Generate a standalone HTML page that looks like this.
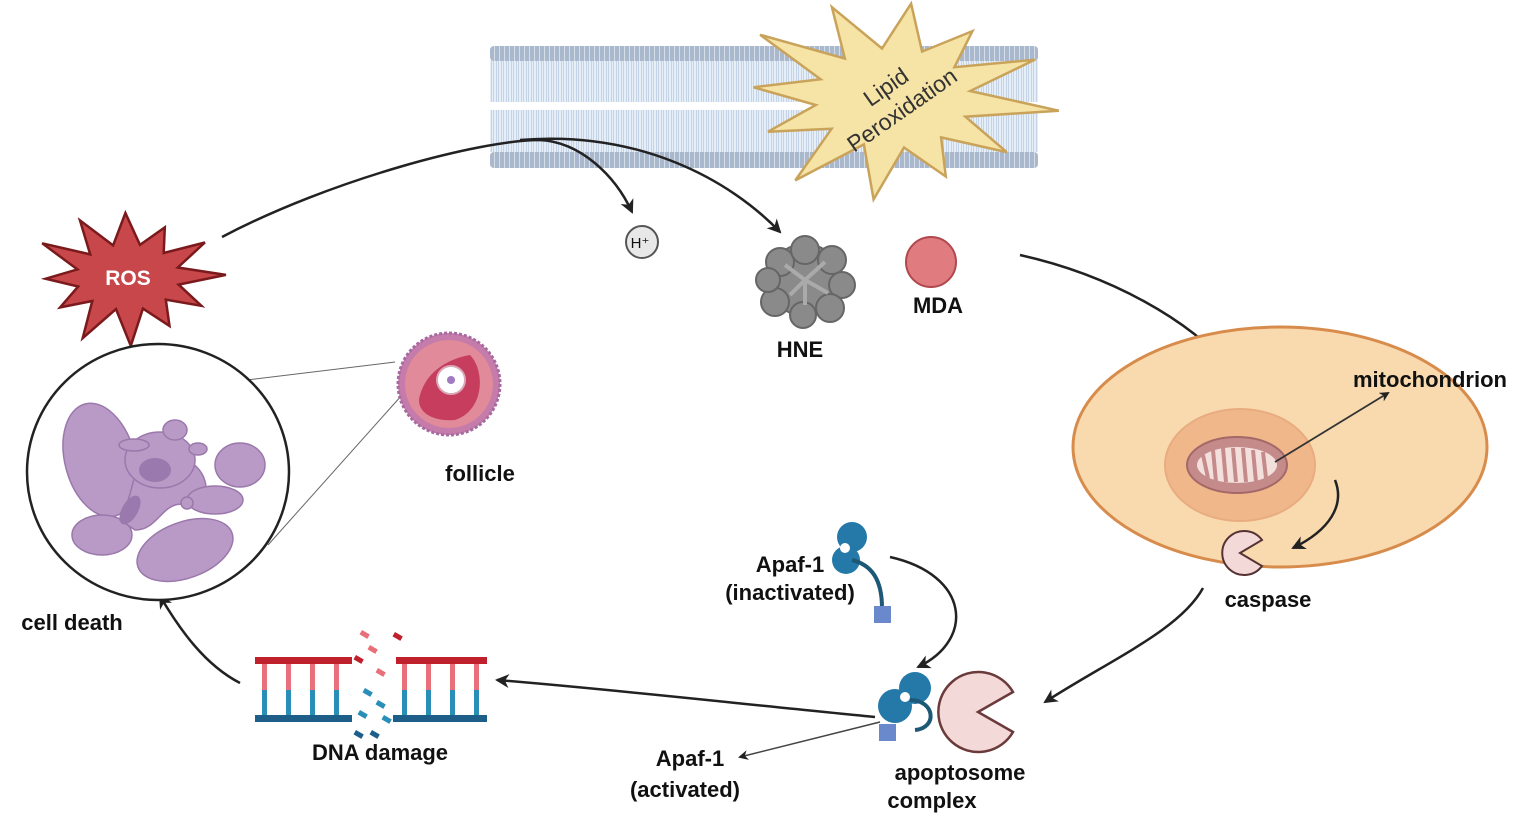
<!DOCTYPE html>
<html><head><meta charset="utf-8"><style>
html,body{margin:0;padding:0;background:#fff;}
svg{display:block;}
text{font-family:"Liberation Sans",Arial,sans-serif;font-weight:bold;fill:#111;}
</style></head><body>
<svg id="s" width="1536" height="818" viewBox="0 0 1536 818" xmlns="http://www.w3.org/2000/svg">
<defs>
<marker id="ah" markerWidth="10" markerHeight="10" refX="8" refY="5" orient="auto" markerUnits="userSpaceOnUse" viewBox="0 0 10 10">
<path d="M0,0 L10,5 L0,10 L3,5 z" fill="#222"/></marker>
<marker id="ah2" markerWidth="14" markerHeight="14" refX="12" refY="7" orient="auto" markerUnits="userSpaceOnUse" viewBox="0 0 14 14">
<path d="M0,0 L14,7 L0,14 L4,7 z" fill="#222"/></marker>
<pattern id="heads" x="490" y="0" width="5" height="20" patternUnits="userSpaceOnUse">
<rect x="0" y="0" width="5" height="20" fill="#a9b8cc"/><rect x="4" y="0" width="1" height="20" fill="#d5dde8"/></pattern>
<pattern id="tails" x="490" y="0" width="5" height="40" patternUnits="userSpaceOnUse">
<rect x="0" y="0" width="5" height="40" fill="#e6eef8"/><rect x="1" y="0" width="1" height="40" fill="#c5d3e6"/><rect x="3" y="0" width="1" height="40" fill="#c5d3e6"/></pattern>
</defs>
<!-- membrane -->
<rect x="490" y="60" width="548" height="42" fill="url(#tails)"/>
<rect x="490" y="110" width="548" height="42" fill="url(#tails)"/>
<rect x="490" y="46" width="548" height="15" rx="4" fill="url(#heads)"/>
<rect x="490" y="152" width="548" height="16" rx="4" fill="url(#heads)"/>
<g id="stars"></g>
<text x="128" y="285" font-size="21" text-anchor="middle" style="fill:#fff">ROS</text>
<text transform="translate(895,100) rotate(-35)" font-size="23" text-anchor="middle" style="font-weight:normal;fill:#333"><tspan x="0" y="-8">Lipid</tspan><tspan x="0" y="20">Peroxidation</tspan></text>
<!-- ROS arrows -->
<path d="M222,237 C330,180 480,140 540,140 C580,142 615,175 632,212" fill="none" stroke="#222" stroke-width="2.5" marker-end="url(#ah2)"/>
<path d="M520,140 C640,130 730,180 780,232" fill="none" stroke="#222" stroke-width="2.5" marker-end="url(#ah2)"/>
<!-- H+ -->
<circle cx="642" cy="242" r="16" fill="#e8e8e8" stroke="#555" stroke-width="2"/>
<text x="640" y="248" font-size="15" text-anchor="middle" style="font-weight:normal">H⁺</text>
<!-- HNE -->
<g fill="#8a8a8a" stroke="#666" stroke-width="2">
<circle cx="805" cy="280" r="36"/>
<circle cx="780" cy="262" r="14"/><circle cx="805" cy="250" r="14"/><circle cx="832" cy="260" r="14"/>
<circle cx="842" cy="285" r="13"/><circle cx="830" cy="308" r="14"/><circle cx="803" cy="315" r="13"/>
<circle cx="775" cy="302" r="14"/><circle cx="768" cy="280" r="12"/>
</g>
<path d="M785,265 L805,280 L825,262 M805,280 L805,305 M790,295 L805,280 L828,293" stroke="#aaa" stroke-width="4" fill="none"/>
<text x="800" y="357" font-size="22" text-anchor="middle">HNE</text>
<circle cx="931" cy="262" r="25" fill="#e07b80" stroke="#b0484e" stroke-width="2"/>
<text x="938" y="313" font-size="22" text-anchor="middle">MDA</text>
<!-- arrow to cell -->
<path d="M1020,255 C1110,275 1190,320 1232,370" fill="none" stroke="#222" stroke-width="2.5" marker-end="url(#ah2)"/>
<!-- cell -->
<ellipse cx="1280" cy="447" rx="207" ry="120" fill="#f9d9ae" stroke="#d88c4c" stroke-width="3"/>
<ellipse cx="1240" cy="465" rx="75" ry="56" fill="#f0b88a" stroke="#e8ac80" stroke-width="2"/>
<ellipse cx="1237" cy="465" rx="50" ry="28" fill="#c58b8b" stroke="#a46868" stroke-width="2"/>
<ellipse cx="1237" cy="465" rx="40" ry="18" fill="#f3e0dc"/>
<path d="M1203,455 L1208,478 M1213,450 L1216,482 M1223,448 L1226,482 M1233,448 L1236,482 M1243,448 L1246,482 M1253,450 L1256,482 M1263,452 L1266,478" stroke="#c58b8b" stroke-width="4"/>
<text x="1430" y="387" font-size="22" text-anchor="middle">mitochondrion</text>
<line x1="1275" y1="462" x2="1388" y2="393" stroke="#333" stroke-width="1.8" marker-end="url(#ah)"/>
<path d="M1335,480 C1345,505 1330,530 1293,548" fill="none" stroke="#222" stroke-width="2.5" marker-end="url(#ah2)"/>
<path d="M1240,553 L1262,540 A22,22 0 1 0 1262,566 Z" fill="#f4d9d9" stroke="#553333" stroke-width="2"/>
<text x="1268" y="607" font-size="22" text-anchor="middle">caspase</text>
<path d="M1203,588 C1180,630 1110,660 1045,702" fill="none" stroke="#222" stroke-width="2.5" marker-end="url(#ah2)"/>
<!-- apoptosome -->
<path d="M978,712 L1013,692 A40,40 0 1 0 1013,732 Z" fill="#f4d9d9" stroke="#6b3a3a" stroke-width="2.5"/>
<g fill="#2479a9">
<circle cx="915" cy="688" r="16"/><circle cx="895" cy="706" r="17"/>
</g>
<circle cx="905" cy="697" r="5" fill="#fff"/>
<path d="M910,700 C935,700 938,728 915,730" fill="none" stroke="#1d5877" stroke-width="4"/>
<rect x="879" y="724" width="17" height="17" fill="#6a88cc"/>
<text x="960" y="780" font-size="22" text-anchor="middle">apoptosome</text>
<text x="932" y="808" font-size="22" text-anchor="middle">complex</text>
<!-- Apaf-1 inactivated -->
<g fill="#2479a9">
<circle cx="852" cy="537" r="15"/><circle cx="846" cy="560" r="14"/>
</g>
<circle cx="845" cy="548" r="5" fill="#fff"/>
<path d="M852,560 C872,565 882,580 882,608" fill="none" stroke="#1d5877" stroke-width="4"/>
<rect x="874" y="606" width="17" height="17" fill="#6a88cc"/>
<text x="790" y="572" font-size="22" text-anchor="middle">Apaf-1</text>
<text x="790" y="600" font-size="22" text-anchor="middle">(inactivated)</text>
<path d="M890,557 C970,575 975,640 918,667" fill="none" stroke="#222" stroke-width="2.5" marker-end="url(#ah2)"/>
<!-- to DNA -->
<path d="M875,717 C750,705 620,690 497,680" fill="none" stroke="#222" stroke-width="2.5" marker-end="url(#ah2)"/>
<line x1="880" y1="722" x2="740" y2="757" stroke="#444" stroke-width="1.5" marker-end="url(#ah)"/>
<text x="690" y="766" font-size="22" text-anchor="middle">Apaf-1</text>
<text x="685" y="797" font-size="22" text-anchor="middle">(activated)</text>
<!-- DNA -->
<g id="dna"></g>
<text x="380" y="760" font-size="22" text-anchor="middle">DNA damage</text>
<path d="M240,683 C205,665 180,630 160,596" fill="none" stroke="#222" stroke-width="2.5" marker-end="url(#ah2)"/>
<!-- cell death -->
<line x1="140" y1="393" x2="395" y2="362" stroke="#666" stroke-width="1"/>
<line x1="268" y1="545" x2="402" y2="395" stroke="#666" stroke-width="1"/>
<ellipse cx="158" cy="472" rx="131" ry="128" fill="#fff" stroke="#222" stroke-width="2.5"/>
<g fill="#b99ac7" stroke="#9a78ab" stroke-width="1.5">
<ellipse cx="100" cy="460" rx="35" ry="58" transform="rotate(-15 100 460)"/>
<ellipse cx="102" cy="535" rx="30" ry="20"/>
<path d="M120,520 C140,480 130,450 160,455 C200,455 210,480 205,500 C215,485 240,490 240,505 C225,520 190,500 175,505 C160,510 155,530 135,530 Z"/>
<ellipse cx="160" cy="460" rx="35" ry="28"/>
<ellipse cx="175" cy="430" rx="12" ry="10"/>
<ellipse cx="134" cy="445" rx="15" ry="6"/>
<ellipse cx="198" cy="449" rx="9" ry="6"/>
<ellipse cx="240" cy="465" rx="25" ry="22"/>
<ellipse cx="215" cy="500" rx="28" ry="14"/>
<ellipse cx="185" cy="550" rx="50" ry="28" transform="rotate(-20 185 550)"/>
<circle cx="187" cy="503" r="6"/>
</g>
<ellipse cx="155" cy="470" rx="16" ry="12" fill="#9a7aae"/>
<ellipse cx="130" cy="510" rx="8" ry="16" fill="#9a7aae" transform="rotate(30 130 510)"/>
<text x="72" y="630" font-size="22" text-anchor="middle">cell death</text>
<!-- follicle -->
<circle cx="449" cy="384" r="51" fill="#c57cab" stroke="#a76aa0" stroke-width="3" stroke-dasharray="3 2"/>
<circle cx="449" cy="384" r="44" fill="#e08a9a"/>
<path d="M420,395 C430,360 470,355 470,355 C485,370 485,410 455,420 C430,422 415,410 420,395 Z" fill="#c73d5e"/>
<circle cx="451" cy="380" r="14" fill="#fff" stroke="#d8a8b8" stroke-width="2"/>
<circle cx="451" cy="380" r="4" fill="#a27ac0"/>
<text x="480" y="481" font-size="22" text-anchor="middle">follicle</text>
</svg>
<script>
function star(cx,cy,rx,ry,irx,iry,n,rot,fill,stroke){
 var p=[];for(var i=0;i<2*n;i++){var a=rot+i*Math.PI/n;var o=i%2==0;var jitter=o?(1+0.12*Math.sin(i*2.3)):1;
 p.push((cx+Math.cos(a)*(o?rx*jitter:irx)).toFixed(1)+","+(cy+Math.sin(a)*(o?ry*jitter:iry)).toFixed(1));}
 return '<polygon points="'+p.join(" ")+'" fill="'+fill+'" stroke="'+stroke+'" stroke-width="2.5" stroke-linejoin="miter"/>';}
document.getElementById("stars").innerHTML=
 star(128,277,88,64,52,33,12,-1.6,"#c8474a","#7a1a1c")+
 star(893,98,150,95,78,50,12,-1.45,"#f6e3a6","#c9a35a");
var d="";
d+='<rect x="255" y="657" width="97" height="7" fill="#c0202c"/><rect x="396" y="657" width="91" height="7" fill="#c0202c"/>';
d+='<rect x="255" y="715" width="97" height="7" fill="#1d5f88"/><rect x="393" y="715" width="94" height="7" fill="#1d5f88"/>';
[262,286,310,334,402,426,450,474].forEach(function(x){d+='<rect x="'+x+'" y="664" width="5" height="26" fill="#e8707a"/><rect x="'+x+'" y="690" width="5" height="25" fill="#2a8fb8"/>';});
[[362,630,"#e8707a"],[370,645,"#e8707a"],[356,655,"#c0202c"],[378,668,"#e8707a"],[395,632,"#c0202c"],[365,688,"#2a8fb8"],[378,700,"#2a8fb8"],[360,710,"#2a8fb8"],[384,715,"#2a8fb8"],[372,730,"#1d5f88"],[356,730,"#1d5f88"]].forEach(function(f){d+='<rect x="'+f[0]+'" y="'+f[1]+'" width="9" height="5" fill="'+f[2]+'" transform="rotate(30 '+f[0]+' '+f[1]+')"/>';});
document.getElementById("dna").innerHTML=d;
</script>
</body></html>
